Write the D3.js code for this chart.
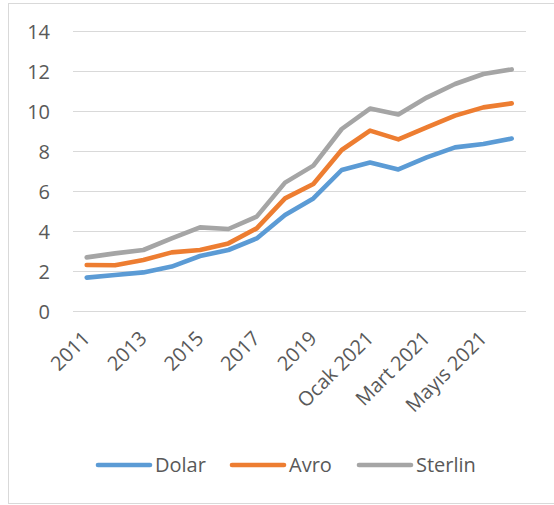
<!DOCTYPE html>
<html><head><meta charset="utf-8">
<script src="https://cdn.jsdelivr.net/npm/d3@7"></script>
<style>body{margin:0;background:#fff;} svg{display:block;}</style>
</head><body>
<script>
const categories = ["2011","2012","2013","2014","2015","2016","2017","2018","2019","2020","Ocak 2021","Şubat 2021","Mart 2021","Nisan 2021","Mayıs 2021","Haziran 2021"];
const dolar = [1.67,1.80,1.93,2.22,2.75,3.05,3.63,4.80,5.63,7.05,7.42,7.08,7.68,8.18,8.35,8.62];
const avro = [2.30,2.29,2.55,2.93,3.05,3.38,4.13,5.63,6.35,8.05,9.02,8.58,9.18,9.77,10.18,10.38];
const sterlin = [2.68,2.88,3.05,3.63,4.18,4.10,4.72,6.42,7.27,9.10,10.12,9.83,10.67,11.35,11.85,12.08];
const yTicks = [0,2,4,6,8,10,12,14];
const seriesNames = ["Dolar","Avro","Sterlin"];
const colors = ["#5B9BD5","#ED7D31","#A5A5A5"];
const series = [dolar, avro, sterlin];

const W = 554, H = 505;
const svg = d3.select("body").append("svg").attr("width", W).attr("height", H);
const font = "'Open Sans', 'Noto Sans', sans-serif";
const fs = 20;
svg.append("rect").attr("x",8.5).attr("y",3.5).attr("width",W-8).attr("height",500)
  .attr("fill","#fff").attr("stroke","#D9D9D9").attr("stroke-width",1);

const x = d3.scalePoint().domain(categories).range([86.7, 511.7]);
const y = d3.scaleLinear().domain([0,14]).range([311, 31]);

// gridlines
svg.append("g").selectAll("line").data(yTicks).join("line")
  .attr("x1",73).attr("x2",526).attr("y1",d=>y(d)+0.5).attr("y2",d=>y(d)+0.5)
  .attr("stroke","#D9D9D9").attr("stroke-width",1);

// y labels
const yAxis = d3.axisLeft(y).tickValues(yTicks).tickSize(0).tickPadding(0);
const gy = svg.append("g").attr("transform","translate(50,0)").call(yAxis);
gy.select(".domain").remove();
gy.selectAll("text").attr("font-family",font).attr("font-size",fs).attr("fill","#595959").attr("dy","0.35em");

// x labels
const xAxis = d3.axisBottom(x).tickSize(0).tickPadding(0)
  .tickFormat((d,i)=> i%2===0 ? d : "");
const gx = svg.append("g").attr("transform","translate(0,324)").call(xAxis);
gx.select(".domain").remove();
gx.selectAll("text").attr("font-family",font).attr("font-size",fs).attr("fill","#595959")
  .attr("text-anchor","end").attr("dy","0.7em").attr("dx","-0.4em")
  .attr("transform","rotate(-45)");

// lines
const line = d3.line().x((d,i)=>x(categories[i])).y(d=>y(d));
series.forEach((s,k)=>{
  svg.append("path").datum(s).attr("d",line).attr("fill","none")
    .attr("stroke",colors[k]).attr("stroke-width",4.6)
    .attr("stroke-linejoin","round").attr("stroke-linecap","round");
});

// legend
const legX = [96, 230, 357];
seriesNames.forEach((n,k)=>{
  const g = svg.append("g");
  g.append("line").attr("x1",legX[k]+2).attr("x2",legX[k]+54).attr("y1",465).attr("y2",465)
    .attr("stroke",colors[k]).attr("stroke-width",4.6).attr("stroke-linecap","round");
  g.append("text").attr("x",legX[k]+59).attr("y",465).attr("dy","0.35em")
    .attr("font-family",font).attr("font-size",fs).attr("fill","#595959").text(n);
});
</script>
</body></html>
